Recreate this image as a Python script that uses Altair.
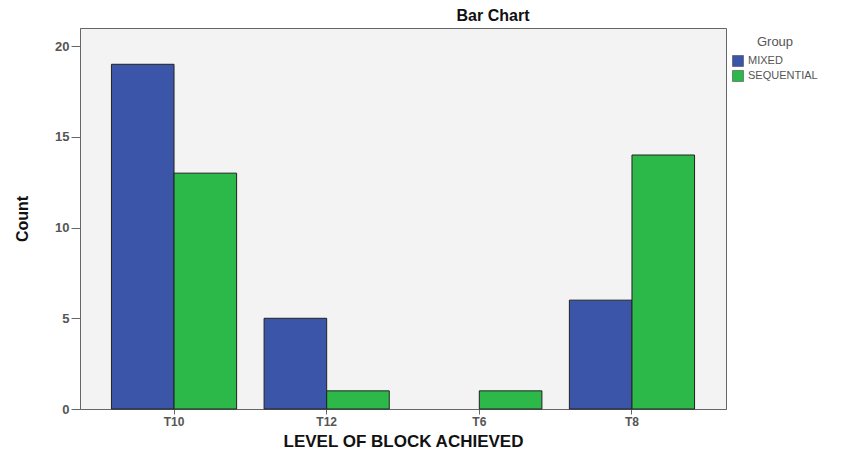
import altair as alt
import pandas as pd

levels = ["T10", "T12", "T6", "T8"]
mixed = [19, 5, 0, 6]
sequential = [13, 1, 1, 14]
groups = ["MIXED", "SEQUENTIAL"]
colors = ["#3B55A9", "#2DB94A"]

rows = []
for lv, m, s in zip(levels, mixed, sequential):
    rows.append({"level": lv, "group": "MIXED", "count": m})
    rows.append({"level": lv, "group": "SEQUENTIAL", "count": s})
df = pd.DataFrame(rows)

font = "Liberation Sans"

chart = alt.Chart(df).mark_bar(stroke="#222222", strokeWidth=1).encode(
    x=alt.X("level:N", sort=levels,
            scale=alt.Scale(paddingInner=0.18, paddingOuter=0.206),
            axis=alt.Axis(title="LEVEL OF BLOCK ACHIEVED", labelAngle=0,
                          titleFontSize=17, titleFontWeight="bold", titleFont=font,
                          titleColor="#111111", titlePadding=6,
                          labelFont=font, labelFontSize=12, labelColor="#555555",
                          labelFontWeight="bold",
                          domainColor="#666666", tickColor="#666666", tickSize=5)),
    xOffset=alt.XOffset("group:N", sort=groups),
    y=alt.Y("count:Q", scale=alt.Scale(domain=[0, 21], nice=False),
            axis=alt.Axis(title="Count", values=[0, 5, 10, 15, 20], grid=False,
                          titleFontSize=16, titleFontWeight="bold", titleFont=font,
                          titleColor="#111111", titlePadding=24,
                          labelFont=font, labelFontSize=13, labelColor="#555555",
                          labelFontWeight="bold", labelPadding=2,
                          domainColor="#666666", tickColor="#666666", tickSize=9)),
    strokeOpacity=alt.condition(alt.datum.count > 0, alt.value(1), alt.value(0)),
    color=alt.Color("group:N", sort=groups,
                    scale=alt.Scale(domain=groups, range=colors),
                    legend=alt.Legend(title="Group", orient="none", legendX=652, legendY=8,
                                      titleFont=font, titleFontSize=13, titleColor="#555555",
                                      titleFontWeight="normal", titleAnchor="middle",
                                      labelFont=font, labelFontSize=11, labelColor="#555555",
                                      symbolType="square", symbolSize=120,
                                      symbolStrokeColor="#333333", symbolStrokeWidth=0.5,
                                      rowPadding=1, titlePadding=6)),
).properties(
    width=646, height=381,
    title=alt.TitleParams("Bar Chart", font=font, fontSize=16, fontWeight="bold",
                          color="#111111", anchor="middle", dx=90, offset=4),
    autosize=alt.AutoSizeParams(type="none"),
    padding={"left": 72, "top": 20, "right": 117, "bottom": 48},
    background="white",
).configure_view(fill="#F3F3F3", stroke="#666666", strokeWidth=1)

chart.save("out.html", embed_options={"renderer": "svg", "actions": False})
